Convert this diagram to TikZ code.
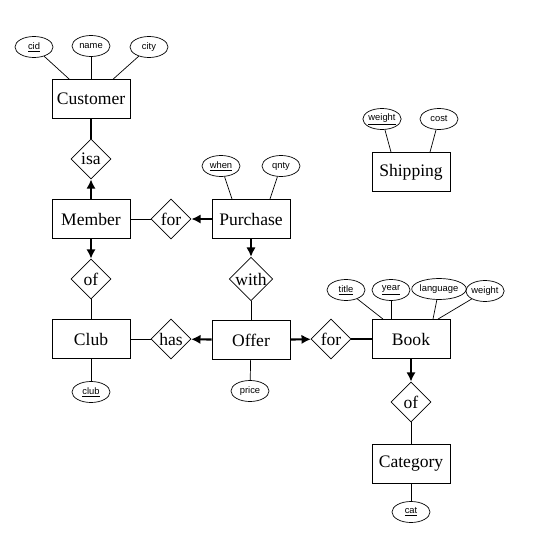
\documentclass[tikz,border=0pt]{standalone}
\usepackage{fontspec}
\setmainfont{Liberation Serif}
\newfontfamily\attrfont{Liberation Sans}
\usepackage{tikz}
\usetikzlibrary{shapes}
\usetikzlibrary{calc}
\usetikzlibrary{arrows.meta}
\tikzset{entity/.style={draw, rectangle, line width=.7pt, minimum width=2.34cm, minimum height=1.17cm,
   font=\fontsize{15}{17}\selectfont},
 relation/.style={draw, diamond, line width=.6pt, inner sep=0pt, minimum width=1.2cm, minimum height=1.2cm,
   font=\fontsize{15}{17}\selectfont},
 attrib/.style={draw, ellipse, line width=.6pt, inner sep=0pt, minimum width=1.14cm, minimum height=.63cm,
   font=\attrfont\fontsize{8}{9}\selectfont},
 link/.style={line width=.6pt},
 strong/.style={line width=1.8pt},
 tolink/.style={line width=1.8pt, -{Latex[length=8pt,width=8pt]}},
 }

\begin{document}
\begin{tikzpicture}[x=.03cm, y=-.03cm]
        \useasboundingbox (0, 0) rectangle (540, 537);

        % entities
        \node[entity] (customer) at (91, 99) {Customer};
        \node[entity] (member) at (91, 219) {Member};
        \node[entity] (club) at (91, 339) {Club};
        \node[entity] (purchase) at (251, 219) {Purchase};
        \node[entity] (offer) at (251, 340) {Offer};
        \node[entity] (book) at (411, 339) {Book};
        \node[entity] (shipping) at (411, 172) {Shipping};
        \node[entity] (category) at (411, 464) {Category};

        % relationships
        \node[relation] (isa) at (91, 159) {isa};
        \node[relation] (memberfor) at (171, 219) {for};
        \node[relation] (memberof) at (91, 279) {of};
        \node[relation] (with) at (251, 279) {with};
        \node[relation] (has) at (171, 339) {has};
        \node[relation] (bookfor) at (331, 339) {for};
        \node[relation] (categoryof) at (411, 402) {of};

        % attributes
        \node[attrib] (cid) at (34, 47) {\underline{cid}};
        \node[attrib] (name) at (91, 46) {name};
        \node[attrib] (city) at (149, 47) {city};
        \node[attrib] (when) at (221, 166) {\underline{when}};
        \node[attrib] (qnty) at (281, 166) {qnty};
        \node[attrib] (shipweight) at (382, 119) {\underline{weight}};
        \node[attrib] (cost) at (439, 119) {cost};
        \node[attrib] (title) at (346, 290) {\underline{title}};
        \node[attrib] (year) at (391, 290) {\underline{year}};
        \node[attrib] (language) at (439, 289) {language};
        \node[attrib] (bookweight) at (485, 291) {weight};
        \node[attrib] (clubid) at (91, 392) {\underline{club}};
        \node[attrib] (price) at (250, 391) {price};
        \node[attrib] (cat) at (411, 512) {\underline{cat}};

        % attribute links
        \foreach \a in {cid, name, city} {
            \draw[link] (\a) -- (customer);
        }
        \draw[link] (when) -- ($(purchase.north)+(-19, 0)$);
        \draw[link] (qnty) -- ($(purchase.north)+(19, 0)$);
        \draw[link] (shipweight) -- ($(shipping.north)+(-20, 0)$);
        \draw[link] (cost) -- ($(shipping.north)+(19, 0)$);
        \draw[link] (title) -- ($(book.north)+(-28, 0)$);
        \draw[link] (year) -- ($(book.north)+(-20, 0)$);
        \draw[link] (language) -- ($(book.north)+(22, 0)$);
        \draw[link] (bookweight) -- ($(book.north)+(27, 0)$);
        \draw[link] (clubid) -- (club);
        \draw[link] (price) -- (offer);
        \draw[link] (cat) -- (category);

        % relationship links
        \draw[strong] (customer) -- (isa);
        \draw[tolink] (member) -- (isa);
        \draw[link] (member) -- (memberfor);
        \draw[tolink] (purchase) -- (memberfor);
        \draw[tolink] (member) -- (memberof);
        \draw[link] (memberof) -- (club);
        \draw[tolink] (purchase) -- (with);
        \draw[link] (with) -- (offer);
        \draw[tolink] (offer) -- (has);
        \draw[link] (has) -- (club);
        \draw[tolink] (offer) -- (bookfor);
        \draw[strong] (bookfor) -- (book);
        \draw[tolink] (book) -- (categoryof);
        \draw[link] (categoryof) -- (category);
    \end{tikzpicture}
\end{document}
